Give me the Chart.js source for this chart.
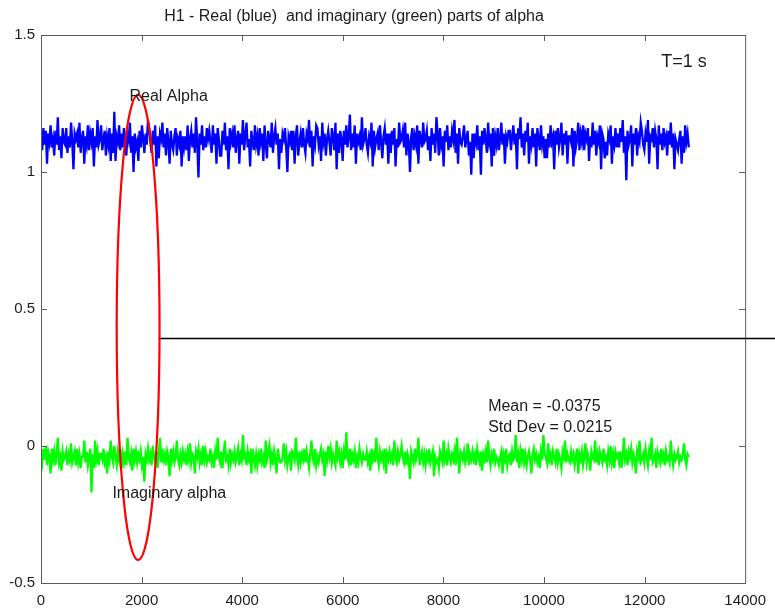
<!DOCTYPE html>
<html lang="en">
<head>
<meta charset="UTF-8">
<title>H1 - alpha</title>
<script src="https://cdn.jsdelivr.net/npm/chart.js@4"></script>
<style>
  html, body { margin: 0; padding: 0; background: #fff; }
  #wrap { width: 775px; height: 609px; }
</style>
</head>
<body>
<div id="wrap"><canvas id="alpha-chart" width="775" height="609"></canvas></div>
<script>
// sample range and axis ticks
const lastSample = 12880;
const xTicks = [0, 2000, 4000, 6000, 8000, 10000, 12000, 14000];
const yTicks = [-0.5, 0, 0.5, 1, 1.5];

// real part of alpha
const realAlpha = [
  1.13,1.08,1.16,1.10,1.15,1.03,1.14,1.11,1.17,1.09,
  1.12,1.06,1.15,1.10,1.20,1.08,1.13,1.05,1.16,1.11,
  1.10,1.16,1.07,1.13,1.09,1.18,1.11,1.01,1.14,1.12,
  1.14,1.09,1.18,1.07,1.12,1.15,1.03,1.13,1.10,1.17,
  1.08,1.14,1.11,1.16,1.02,1.13,1.09,1.19,1.10,1.12,
  1.17,1.08,1.12,1.15,1.06,1.13,1.10,1.16,1.04,1.14,
  1.07,1.22,1.04,1.13,1.11,1.17,1.08,1.14,1.09,1.16,
  1.10,1.06,1.15,1.12,1.18,1.07,1.13,1.00,1.14,1.09,
  1.11,1.04,1.15,1.09,1.17,1.12,1.07,1.14,1.10,1.19,
  1.16,1.11,1.07,1.15,1.10,1.17,1.02,1.13,1.05,1.14,
  1.12,1.18,1.09,1.14,1.06,1.16,1.11,1.03,1.15,1.10,
  1.08,1.13,1.16,1.06,1.12,1.10,1.15,1.02,1.13,1.09,
  1.13,1.08,1.17,1.04,1.12,1.15,1.09,1.14,1.07,1.20,
  1.11,0.98,1.14,1.10,1.17,1.08,1.13,1.09,1.16,1.12,
  1.15,1.11,1.07,1.17,1.10,1.14,1.03,1.16,1.12,1.06,
  1.06,1.15,1.10,1.18,1.08,1.13,1.01,1.16,1.11,1.14,
  1.09,1.17,1.07,1.12,1.15,1.03,1.14,1.10,1.19,1.08,
  1.13,1.18,1.09,1.12,1.02,1.15,1.11,1.08,1.17,1.10,
  1.13,1.06,1.16,1.11,1.14,1.04,1.17,1.10,1.05,1.15,
  1.12,1.09,1.18,1.07,1.13,1.16,1.10,1.14,1.01,1.12,
  1.07,1.14,1.12,1.16,1.09,1.00,1.13,1.11,1.15,1.08,
  1.15,1.03,1.13,1.17,1.06,1.11,1.14,1.09,1.16,1.10,
  1.07,1.14,1.12,1.19,1.09,1.15,1.02,1.13,1.10,1.17,
  1.16,1.10,1.13,1.04,1.18,1.11,1.14,1.06,1.12,1.15,
  1.11,1.06,1.16,1.13,1.08,1.18,1.01,1.14,1.07,1.15,
  1.12,1.04,1.15,1.10,1.17,1.09,1.13,1.21,1.08,1.14,
  1.09,1.17,1.03,1.14,1.11,1.13,1.08,1.20,1.10,1.12,
  1.16,1.10,1.07,1.13,1.11,1.18,1.02,1.15,1.09,1.12,
  1.14,1.08,1.17,1.11,1.05,1.13,1.16,1.10,1.14,1.03,
  1.14,1.07,1.15,1.10,1.16,1.02,1.12,1.09,1.18,1.11,
  1.12,1.15,1.09,1.18,1.06,1.14,1.11,1.00,1.13,1.16,
  1.08,1.13,1.10,1.17,1.03,1.15,1.12,1.09,1.18,1.11,
  1.12,1.15,1.08,1.13,1.04,1.16,1.10,1.14,1.07,1.20,
  1.14,1.06,1.16,1.10,1.13,1.02,1.15,1.11,1.17,1.08,
  1.13,1.09,1.15,1.12,1.19,1.07,1.14,1.03,1.16,1.11,
  1.10,1.13,1.17,1.09,1.12,1.15,1.06,1.11,0.99,1.14,
  1.05,1.14,1.11,1.17,1.08,1.13,0.99,1.15,1.10,1.16,
  1.12,1.07,1.18,1.11,1.14,1.02,1.16,1.06,1.13,1.10,
  1.16,1.08,1.12,1.18,1.10,1.14,1.03,1.13,1.11,1.15,
  1.15,1.08,1.13,1.17,1.10,1.14,1.01,1.16,1.12,1.20,
  1.09,1.14,1.06,1.15,1.11,1.18,1.03,1.13,1.10,1.16,
  1.09,1.14,1.02,1.16,1.12,1.08,1.17,1.10,1.13,1.05,
  1.12,1.05,1.14,1.09,1.17,1.11,1.13,1.01,1.15,1.10,
  1.16,1.09,1.12,1.18,1.06,1.14,1.10,1.15,1.03,1.13,
  1.13,1.11,1.16,1.02,1.15,1.09,1.12,1.18,1.08,1.14,
  1.11,1.17,1.08,1.14,1.12,1.16,1.04,1.13,1.09,1.18,
  1.10,1.15,1.06,1.13,1.11,1.17,1.01,1.14,1.12,1.05,
  1.11,1.06,1.14,1.12,1.17,1.03,1.13,1.10,1.16,1.09,
  1.14,1.09,1.16,1.11,1.19,1.07,1.13,0.97,1.15,1.10,
  1.12,1.17,1.02,1.14,1.10,1.16,1.06,1.13,1.11,1.18,
  1.15,1.10,1.08,1.14,1.11,1.19,1.03,1.13,1.12,1.16,
  1.09,1.15,1.12,1.01,1.17,1.10,1.14,1.08,1.16,1.11,
  1.13,1.06,1.15,1.10,1.18,1.09,1.14,1.01,1.12,1.10,
  1.08,1.12,1.15,1.03,1.13,1.07,1.17,1.11,1.14,1.09
];

// imaginary part of alpha
const imagAlpha = [
  -0.03,-0.06,-0.01,-0.05,0.00,-0.07,-0.02,-0.04,-0.10,-0.01,
  -0.05,-0.02,-0.07,-0.03,0.03,-0.06,-0.04,-0.09,-0.02,-0.05,
  -0.04,-0.02,-0.07,-0.03,-0.05,0.01,-0.06,-0.04,-0.02,-0.07,
  -0.01,-0.06,-0.03,-0.08,-0.04,-0.04,0.02,-0.06,-0.02,-0.07,
  -0.04,-0.01,-0.17,-0.03,-0.08,0.02,-0.05,-0.02,-0.07,-0.03,
  -0.03,-0.05,-0.01,-0.06,-0.04,-0.10,-0.02,-0.05,0.02,-0.04,
  -0.06,0.00,-0.04,-0.07,-0.02,-0.05,-0.01,-0.08,-0.03,-0.06,
  -0.02,-0.07,0.03,-0.04,-0.06,-0.03,-0.09,-0.01,-0.05,-0.02,
  -0.06,-0.03,-0.05,-0.02,-0.07,-0.04,-0.13,-0.03,-0.05,-0.01,
  -0.05,-0.03,-0.07,0.00,-0.04,-0.06,-0.02,-0.08,-0.03,0.03,
  -0.06,-0.01,-0.05,-0.03,-0.07,-0.02,-0.04,-0.11,-0.01,-0.05,
  -0.02,-0.06,-0.04,0.02,-0.05,-0.07,-0.03,-0.06,-0.02,-0.05,
  -0.03,-0.07,-0.02,-0.05,0.01,-0.06,-0.03,-0.04,-0.10,-0.02,
  -0.04,-0.01,-0.06,-0.03,-0.07,0.00,-0.05,-0.02,-0.06,-0.04,
  -0.05,-0.01,-0.06,-0.04,-0.08,-0.02,-0.05,0.03,-0.04,-0.06,
  -0.02,-0.08,-0.03,0.02,-0.05,-0.04,-0.07,-0.01,-0.06,-0.03,
  -0.05,-0.02,-0.06,-0.04,-0.01,-0.07,-0.03,-0.05,0.04,-0.04,
  -0.03,-0.07,-0.02,-0.05,-0.03,-0.10,-0.01,-0.04,-0.07,-0.03,
  -0.07,-0.03,-0.05,-0.01,-0.06,-0.04,-0.08,0.02,-0.05,-0.03,
  0.00,-0.06,-0.03,-0.07,-0.02,-0.05,-0.10,-0.01,-0.04,-0.06,
  -0.06,-0.04,0.01,-0.05,-0.02,-0.07,-0.04,-0.03,-0.09,-0.02,
  -0.03,-0.05,0.03,-0.04,-0.07,-0.02,-0.06,-0.03,-0.05,-0.01,
  -0.06,-0.02,-0.05,-0.08,-0.03,0.02,-0.04,-0.06,-0.01,-0.07,
  -0.04,-0.06,-0.03,-0.01,-0.05,-0.03,-0.11,-0.02,-0.05,0.00,
  -0.04,-0.01,-0.06,-0.03,-0.05,-0.07,0.02,-0.04,-0.02,-0.06,
  -0.03,-0.08,-0.02,-0.05,0.05,-0.04,-0.06,-0.01,-0.07,-0.03,
  -0.05,-0.02,-0.08,-0.04,-0.06,-0.01,-0.04,-0.06,-0.03,-0.05,
  -0.05,-0.02,-0.06,-0.04,-0.09,-0.01,-0.05,-0.03,-0.06,0.03,
  -0.04,-0.07,-0.02,-0.05,-0.03,-0.06,-0.01,-0.10,-0.03,-0.05,
  -0.02,-0.05,-0.03,-0.07,0.02,-0.04,-0.06,-0.02,-0.05,-0.03,
  0.00,-0.04,-0.06,-0.02,-0.07,-0.03,-0.05,-0.12,-0.02,-0.04,
  -0.06,-0.01,-0.05,-0.03,0.03,-0.07,-0.04,-0.02,-0.06,-0.03,
  -0.07,-0.03,-0.05,-0.01,-0.06,-0.04,-0.02,-0.11,-0.04,-0.06,
  -0.05,-0.08,-0.02,-0.04,-0.06,0.02,-0.05,-0.03,-0.07,-0.01,
  -0.04,-0.06,-0.03,-0.05,-0.02,-0.07,0.03,-0.04,-0.10,-0.02,
  -0.03,-0.05,-0.02,-0.06,-0.04,0.01,-0.07,-0.03,-0.05,-0.02,
  -0.05,-0.03,-0.07,-0.01,-0.04,-0.06,-0.02,-0.09,-0.03,-0.05,
  -0.02,-0.06,0.02,-0.04,-0.07,-0.03,-0.05,-0.01,-0.06,-0.04,
  -0.05,-0.07,-0.04,-0.02,-0.10,-0.03,-0.05,-0.01,-0.07,-0.04,
  -0.03,-0.07,-0.02,-0.05,-0.04,0.04,-0.06,-0.03,-0.08,-0.02,
  -0.05,-0.01,-0.06,-0.03,-0.07,-0.04,-0.02,-0.05,-0.10,-0.03,
  -0.01,-0.05,-0.03,-0.06,-0.04,-0.08,-0.02,-0.05,0.04,-0.03,
  -0.04,-0.06,0.01,-0.05,-0.03,-0.07,-0.02,-0.04,-0.06,-0.01,
  -0.06,-0.03,-0.05,-0.08,-0.02,-0.04,0.02,-0.06,-0.03,-0.05,
  -0.06,-0.02,-0.05,-0.03,-0.07,-0.04,-0.01,-0.10,-0.03,-0.05,
  -0.02,-0.07,-0.04,0.01,-0.06,-0.03,-0.05,-0.09,-0.02,-0.04,
  -0.05,0.02,-0.06,-0.03,-0.07,-0.02,-0.04,-0.06,-0.01,-0.05,
  -0.04,-0.07,-0.02,-0.05,0.00,-0.06,-0.03,-0.08,-0.02,-0.04,
  -0.03,-0.06,-0.02,-0.08,-0.04,0.03,-0.05,-0.03,-0.07,-0.02,
  -0.04,-0.01,-0.06,-0.03,-0.05,-0.10,-0.02,-0.04,0.02,-0.06,
  -0.05,-0.03,-0.06,-0.01,-0.04,-0.07,-0.02,-0.05,0.03,-0.06,
  -0.05,-0.03,-0.08,-0.02,-0.04,-0.06,-0.01,-0.05,-0.03,-0.07,
  -0.02,-0.05,-0.04,-0.06,0.02,-0.04,-0.07,-0.03,-0.05,-0.04,
  -0.02,-0.06,-0.04,-0.05,-0.03,0.01,-0.05,-0.07,-0.03,-0.04
];

// highlighted window (data units) and the pointer line level
const ringCenter = { x: 1931, y: 0.433 };
const ringRadius = { x: 426, y: 0.849 };
const pointerLevel = 0.394;

const FONT = "'Liberation Sans', Arial, Helvetica, sans-serif";

function toPoints(values) {
  const step = lastSample / (values.length - 1);
  return values.map((v, i) => ({ x: i * step, y: v }));
}

// frame, inward ticks, ellipse, pointer line and labels
const decor = {
  id: 'decor',
  afterDraw(chart) {
    const { ctx, chartArea: a, scales: { x, y } } = chart;
    ctx.save();

    ctx.strokeStyle = '#5c5c5c';
    ctx.lineWidth = 1;
    ctx.strokeRect(a.left + 0.5, a.top + 0.5, a.right - a.left, a.bottom - a.top);
    const tl = 6;
    ctx.beginPath();
    xTicks.slice(1, -1).forEach(v => {
      const px = Math.round(x.getPixelForValue(v)) + 0.5;
      ctx.moveTo(px, a.bottom); ctx.lineTo(px, a.bottom - tl);
      ctx.moveTo(px, a.top); ctx.lineTo(px, a.top + tl);
    });
    yTicks.slice(1, -1).forEach(v => {
      const py = Math.round(y.getPixelForValue(v)) + 0.5;
      ctx.moveTo(a.left, py); ctx.lineTo(a.left + tl, py);
      ctx.moveTo(a.right, py); ctx.lineTo(a.right - tl, py);
    });
    ctx.stroke();

    // red ring
    const cx = x.getPixelForValue(ringCenter.x);
    const cy = y.getPixelForValue(ringCenter.y);
    const rx = x.getPixelForValue(ringCenter.x + ringRadius.x) - cx;
    const ry = cy - y.getPixelForValue(ringCenter.y + ringRadius.y);
    ctx.strokeStyle = '#ff0000';
    ctx.lineWidth = 2.2;
    ctx.beginPath();
    ctx.ellipse(cx, cy, rx, ry, 0, 0, Math.PI * 2);
    ctx.stroke();

    // pointer line running off to the right
    const ly = Math.round(y.getPixelForValue(pointerLevel)) + 0.5;
    ctx.strokeStyle = '#000';
    ctx.lineWidth = 1.5;
    ctx.beginPath();
    ctx.moveTo(cx + rx, ly);
    ctx.lineTo(chart.width, ly);
    ctx.stroke();

    // text
    ctx.fillStyle = '#1c1c1c';
    ctx.textBaseline = 'middle';
    ctx.textAlign = 'center';
    ctx.font = '16px ' + FONT;
    ctx.fillText('H1 - Real (blue)  and imaginary (green) parts of alpha', 354, 17);

    ctx.textAlign = 'left';
    const put = (txt, vx, vy) => ctx.fillText(txt, x.getPixelForValue(vx), y.getPixelForValue(vy));
    put('Real Alpha', 1760, 1.277);
    put('Imaginary alpha', 1420, -0.175);
    put('Mean = -0.0375', 8890, 0.142);
    put('Std Dev = 0.0215', 8890, 0.069);
    ctx.font = '18px ' + FONT;
    put('T=1 s', 12330, 1.40);

    ctx.restore();
  }
};

const tickFont = { family: FONT, size: 15 };

new Chart(document.getElementById('alpha-chart'), {
  type: 'line',
  data: {
    datasets: [
      {
        label: 'Real alpha',
        data: toPoints(realAlpha),
        borderColor: '#0000ff',
        borderWidth: 2.3,
        pointRadius: 0,
        tension: 0
      },
      {
        label: 'Imaginary alpha',
        data: toPoints(imagAlpha),
        borderColor: '#00ff00',
        borderWidth: 2.3,
        pointRadius: 0,
        tension: 0
      }
    ]
  },
  options: {
    responsive: false,
    devicePixelRatio: 1,
    animation: false,
    events: [],
    layout: { padding: { top: 35, right: 27, left: 0, bottom: 0 } },
    plugins: { legend: { display: false }, tooltip: { enabled: false } },
    scales: {
      x: {
        type: 'linear',
        min: 0,
        max: 14000,
        afterBuildTicks: s => { s.ticks = xTicks.map(v => ({ value: v })); },
        afterFit: s => { s.height = 26; },
        grid: { display: false, drawTicks: false },
        border: { display: false },
        ticks: {
          font: tickFont, color: '#1c1c1c', padding: 9,
          maxRotation: 0, autoSkip: false,
          callback: v => String(v)
        }
      },
      y: {
        min: -0.5,
        max: 1.5,
        afterBuildTicks: s => { s.ticks = yTicks.map(v => ({ value: v })); },
        afterFit: s => { s.width = 41; },
        grid: { display: false, drawTicks: false },
        border: { display: false },
        ticks: {
          font: tickFont, color: '#1c1c1c', padding: 6,
          callback: v => String(v)
        }
      }
    }
  },
  plugins: [decor]
});
</script>
</body>
</html>
